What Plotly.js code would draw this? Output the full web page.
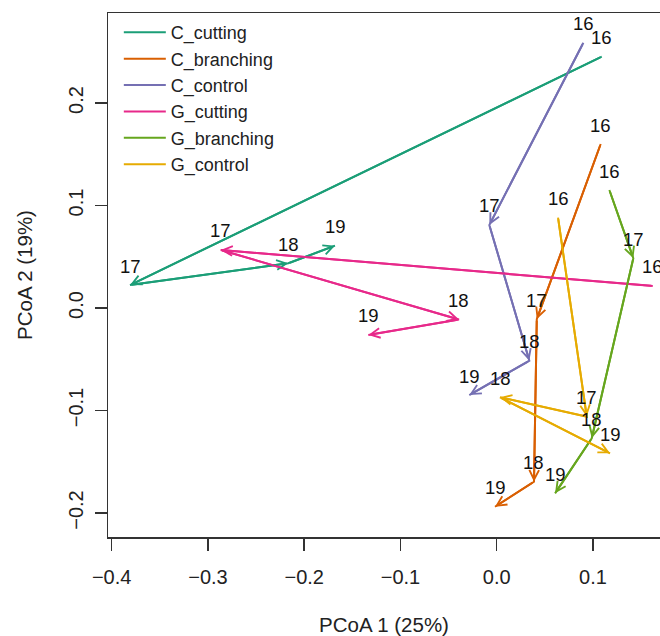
<!DOCTYPE html>
<html><head><meta charset="utf-8">
<script src="https://cdn.plot.ly/plotly-3.0.1.min.js"></script>
<style>html,body{margin:0;padding:0;overflow:hidden;background:#fff}</style>
</head><body><div id="chart" style="width:660px;height:636px"></div>
<script>
const years = ['16', '17', '18', '19'];
const seriesNames = ['C_cutting', 'C_branching', 'C_control', 'G_cutting', 'G_branching', 'G_control'];
const seriesColors = ['#1B9E77', '#D95F02', '#7570B3', '#E7298A', '#66A61E', '#E6AB02'];

const C_cutting_x = [0.1091, -0.3809, -0.2165, -0.1680];
const C_cutting_y = [0.2452, 0.0224, 0.0436, 0.0608];
const C_branching_x = [0.1080, 0.0416, 0.0387, -0.0018];
const C_branching_y = [0.1600, -0.0110, -0.1695, -0.1939];
const C_control_x = [0.0900, -0.0077, 0.0339, -0.0285];
const C_control_y = [0.2588, 0.0810, -0.0514, -0.0849];
const G_cutting_x = [0.1621, -0.2867, -0.0392, -0.1334];
const G_cutting_y = [0.0215, 0.0566, -0.0112, -0.0263];
const G_branching_x = [0.1170, 0.1419, 0.0987, 0.0606];
const G_branching_y = [0.1151, 0.0485, -0.1271, -0.1808];
const G_control_x = [0.0637, 0.0935, 0.0034, 0.1177];
const G_control_y = [0.0881, -0.1060, -0.0871, -0.1418];

const xTicks = [-0.4, -0.3, -0.2, -0.1, 0.0, 0.1];
const yTicks = [-0.2, -0.1, 0.0, 0.1, 0.2];

const seriesX = [C_cutting_x, C_branching_x, C_control_x, G_cutting_x, G_branching_x, G_control_x];
const seriesY = [C_cutting_y, C_branching_y, C_control_y, G_cutting_y, G_branching_y, G_control_y];

const FONT = 'Liberation Sans, Arial, Helvetica, sans-serif';

const traces = seriesNames.map((name, i) => ({
  type: 'scatter', mode: 'lines', name: name,
  x: seriesX[i], y: seriesY[i],
  line: {color: seriesColors[i], width: 2},
  hoverinfo: 'skip', cliponaxis: false
}));

const annotations = [];
seriesNames.forEach((name, i) => {
  for (let k = 1; k < seriesX[i].length; k++) {
    annotations.push({
      x: seriesX[i][k], y: seriesY[i][k],
      ax: seriesX[i][k - 1], ay: seriesY[i][k - 1],
      xref: 'x', yref: 'y', axref: 'x', ayref: 'y',
      showarrow: true, arrowhead: 5, arrowsize: 0.95, arrowwidth: 2,
      arrowcolor: seriesColors[i], text: ''
    });
  }
});
seriesNames.forEach((name, i) => {
  for (let k = 0; k < seriesX[i].length; k++) {
    annotations.push({
      x: seriesX[i][k], y: seriesY[i][k], xref: 'x', yref: 'y',
      text: years[k], showarrow: false, yshift: 19,
      font: {family: FONT, size: 18.5, color: '#111'}
    });
  }
});

const layout = {
  width: 660, height: 636,
  margin: {l: 108, r: 0, t: 13, b: 99},
  paper_bgcolor: '#fff', plot_bgcolor: '#fff',
  font: {family: FONT, color: '#222'},
  showlegend: true,
  legend: {
    x: 0.0196, y: 0.998, xanchor: 'left', yanchor: 'top',
    bgcolor: 'rgba(0,0,0,0)', borderwidth: 0, itemwidth: 42,
    font: {family: FONT, size: 18, color: '#222'}
  },
  xaxis: {
    range: [-0.4038, 0.1696], tickvals: xTicks, tickformat: '.1f',
    showgrid: false, zeroline: false,
    showline: true, mirror: true, linecolor: '#333', linewidth: 1.5,
    ticks: 'outside', ticklen: 12, tickwidth: 1.5, tickcolor: '#333',
    tickfont: {family: FONT, size: 20, color: '#222'}, ticklabelstandoff: 9,
    title: {text: 'PCoA 1 (25%)', font: {family: FONT, size: 20.5, color: '#222'}, standoff: 34}
  },
  yaxis: {
    range: [-0.2234, 0.2878], tickvals: yTicks, tickformat: '.1f', tickangle: -90,
    showgrid: false, zeroline: false,
    showline: true, linecolor: '#333', linewidth: 1.5,
    ticks: 'outside', ticklen: 12, tickwidth: 1.5, tickcolor: '#333',
    tickfont: {family: FONT, size: 20, color: '#222'}, ticklabelstandoff: 4,
    title: {text: 'PCoA 2 (19%)', font: {family: FONT, size: 20.5, color: '#222'}, standoff: 26}
  },
  annotations: annotations
};

Plotly.newPlot('chart', traces, layout, {displayModeBar: false, staticPlot: true});
</script>
</body></html>
